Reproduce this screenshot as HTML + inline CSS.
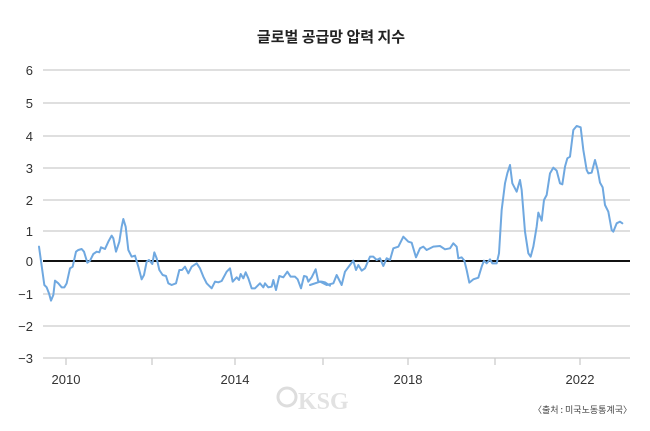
<!DOCTYPE html>
<html><head><meta charset="utf-8"><style>
html,body{margin:0;padding:0;background:#fff;}
body{width:650px;height:426px;overflow:hidden;}
text{font-family:"Liberation Sans","Noto Sans CJK KR",sans-serif;}
</style></head><body>
<svg width="650" height="426" viewBox="0 0 650 426" xmlns="http://www.w3.org/2000/svg">
<rect width="650" height="426" fill="#fff"/>
<text x="331" y="42" text-anchor="middle" font-size="15" font-weight="bold" fill="#222" style="font-family:'Noto Sans CJK KR',sans-serif">글로벌 공급망 압력 지수</text>
<g stroke="#ccc" stroke-width="1.3">
<line x1="43" y1="70" x2="630" y2="70"/>
<line x1="43" y1="103" x2="630" y2="103"/>
<line x1="43" y1="136" x2="630" y2="136"/>
<line x1="43" y1="168" x2="630" y2="168"/>
<line x1="43" y1="200" x2="630" y2="200"/>
<line x1="43" y1="231" x2="630" y2="231"/>
<line x1="43" y1="294" x2="630" y2="294"/>
<line x1="43" y1="326" x2="630" y2="326"/>
<line x1="43" y1="358" x2="630" y2="358"/>
<line x1="66" y1="358" x2="66" y2="365"/>
<line x1="152" y1="358" x2="152" y2="365"/>
<line x1="235" y1="358" x2="235" y2="365"/>
<line x1="323" y1="358" x2="323" y2="365"/>
<line x1="408" y1="358" x2="408" y2="365"/>
<line x1="495" y1="358" x2="495" y2="365"/>
<line x1="580" y1="358" x2="580" y2="365"/>
</g>
<line x1="43" y1="261" x2="630" y2="261" stroke="#111" stroke-width="2"/>
<g font-size="13" fill="#333" text-anchor="end">
<text x="33" y="75">6</text><text x="33" y="108">5</text><text x="33" y="141">4</text>
<text x="33" y="173">3</text><text x="33" y="205">2</text><text x="33" y="236">1</text>
<text x="33" y="266">0</text><text x="33" y="299">−1</text><text x="33" y="331">−2</text>
<text x="33" y="363">−3</text>
</g>
<g font-size="13" fill="#333" text-anchor="middle">
<text x="66" y="384">2010</text><text x="235" y="384">2014</text>
<text x="408" y="384">2018</text><text x="580" y="384">2022</text>
</g>
<g fill="none" stroke="#6fa8e0" stroke-width="2" stroke-linejoin="round" stroke-linecap="round">
<polyline transform="translate(0,50) scale(0.33333)" vector-effect="non-scaling-stroke" points="117,590 133,705 140,712 147,730 153,752 160,735 165,692 175,700 185,712 193,712 200,700 210,655 218,650 228,605 235,600 245,597 252,605 262,638 270,632 280,612 290,605 298,607 303,592 315,597 325,575 335,557 340,565 348,605 358,575 365,530 370,507 377,530 385,600 395,620 405,617 415,650 425,688 432,675 440,635 447,630 457,642 463,607 470,625 478,660 488,675 498,678 505,700 515,705 528,700 538,660 546,660 555,650 565,670 575,650 590,640 600,655 610,680 620,700 635,715 645,695 655,697 665,693 680,665 690,655 698,695 710,682 717,690 722,672 730,685 737,667 745,685 755,715 765,715 780,700 790,712 795,700 805,712 815,710 820,690 828,720 838,678 850,682 862,665 872,680 885,680 893,688 903,715 912,678 920,680 925,695 935,682 947,658 955,695 965,695 975,697 990,707"/>
<polyline transform="translate(320,50) scale(0.33333)" vector-effect="non-scaling-stroke" points="-30,705 0,695 20,705 40,700 50,675 65,705 75,665 90,645 100,632 108,660 115,645 125,662 135,655 150,620 160,620 170,630 180,625 190,648 200,625 210,630 220,595 235,590 250,560 265,575 275,578 288,622 300,595 310,590 320,600 340,590 360,588 375,598 390,595 400,580 410,590 415,625 425,622 433,632 440,660 448,698 460,688 475,683 485,650 492,632 500,640 510,628 517,640 530,640 537,610 545,480 555,400 562,370 570,345 577,400 590,425 600,390 605,420 615,545 625,610 632,620 640,590 650,530 655,488 665,512 672,450 680,435 690,370 700,353 710,362 720,400 727,403 735,350 742,325 750,320 760,240 770,228 782,232 790,300 800,360 805,370 815,368 825,330 833,360 840,398 848,412 855,465 865,485 875,540 880,545 890,520 900,515 907,520"/>
</g>
<circle cx="287" cy="397" r="9" fill="none" stroke="#ddd" stroke-width="3"/>
<text x="298" y="409" font-size="24" font-weight="bold" fill="#e2e2e2" style="font-family:'Liberation Serif',serif">KSG</text>
<text x="632" y="413" text-anchor="end" font-size="9" fill="#444" style="font-family:'Noto Sans CJK KR',sans-serif">〈출처 : 미국노동통계국〉</text>
</svg>
</body></html>
